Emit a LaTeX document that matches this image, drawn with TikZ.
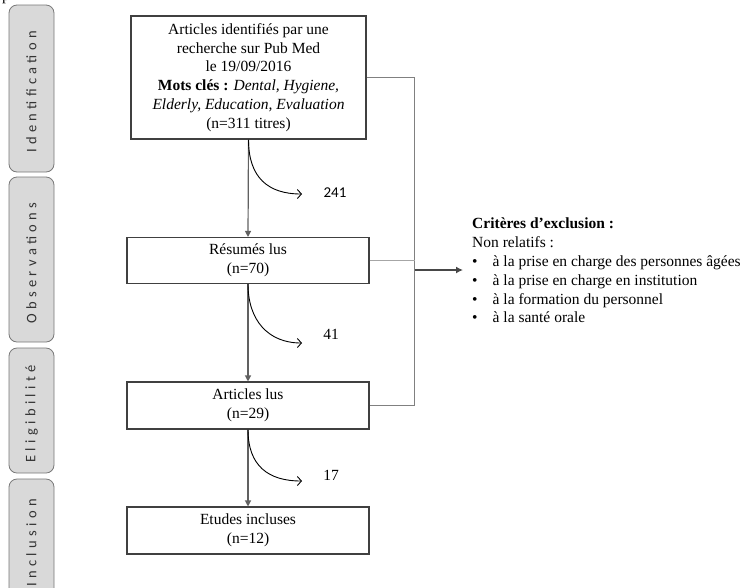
\documentclass[tikz,border=0pt]{standalone}
\usepackage{fontspec}
\setmainfont{Liberation Serif}
\newfontfamily\sidefont[LetterSpace=30]{Carlito}
\newfontfamily\calib{Carlito}
\usetikzlibrary{arrows.meta}
\definecolor{sidefill}{RGB}{217,217,217}
\definecolor{sideline}{RGB}{120,120,120}
\begin{document}
\begin{tikzpicture}[x=1pt,y=-1pt,
  sidebar/.style={draw=sideline, fill=sidefill, rounded corners=8pt, line width=0.8pt, minimum width=45pt, inner sep=0pt},
  sidelabel/.style={rotate=90, font=\sidefont\fontsize{14.5}{16}\selectfont, text=black!80, inner sep=0pt},
  stepbox/.style={draw=black!75, line width=1.1pt, fill=white, align=center, inner sep=0pt, font=\fontsize{15.5}{18.8}\selectfont},
  flow/.style={draw=black!62, line width=1.2pt, -{Triangle[length=6pt,width=6pt]}},
  sideconn/.style={draw=black!50, line width=1pt},
  sideconnlight/.style={draw=black!35, line width=1pt},
  exclarr/.style={draw=black!72, line width=2pt, -{Latex[length=7pt,width=7pt]}},
  outcurve/.style={draw=black, line width=0.9pt, -{Straight Barb[length=4pt,width=9pt]}},
  txt/.style={font=\fontsize{15.5}{18.8}\selectfont, inner sep=0pt}
]
\useasboundingbox (0,0) rectangle (751,587);

% fragment at top-left
\node[txt, anchor=base] (frag) at (6,0.8) {p};

% side bars
\node[sidebar, minimum height=167pt] (sb1) at (31.5,88.5) {};
\node[sidelabel] (sl1) at (31.5,92) {Identification};
\node[sidebar, minimum height=165pt] (sb2) at (31.5,259.5) {};
\node[sidelabel] (sl2) at (31.5,263) {Observations};
\node[sidebar, minimum height=125pt] (sb3) at (31.5,410.5) {};
\node[sidelabel] (sl3) at (31.5,414) {Eligibilité};
\node[sidebar, minimum height=132pt] (sb4) at (31.5,545) {};
\node[sidelabel] (sl4) at (31.5,543) {Inclusion};

% main boxes
\node[stepbox, minimum width=235pt, minimum height=123pt] (top) at (248.5,77.5)
  {Articles identifiés par une\\recherche sur Pub Med\\le 19/09/2016\\\textbf{Mots clés :} \textit{Dental, Hygiene,}\\\textit{Elderly, Education, Evaluation}\\(n=311 titres)};
\node[stepbox, minimum width=242pt, minimum height=46pt] (res) at (248,260.5)
  {Résumés lus\\(n=70)};
\node[stepbox, minimum width=242pt, minimum height=47pt] (art) at (248,405.5)
  {Articles lus\\(n=29)};
\node[stepbox, minimum width=242pt, minimum height=47pt] (etu) at (248,530.5)
  {Etudes incluses\\(n=12)};

% main flow
\draw[flow] (top.south) -- (res.north);
\draw[flow] (res.south) -- (art.north);
\draw[flow] (art.south) -- (etu.north);

% excluded curves
\coordinate (e1) at (302,194);
\coordinate (e2) at (302,343);
\coordinate (e3) at (302,481);
\draw[outcurve] (top.south) .. controls +(0,38) and +(-34,0) .. (e1);
\draw[outcurve] (res.south) .. controls +(0,36) and +(-34,0) .. (e2);
\draw[outcurve] (art.south) .. controls +(0,36) and +(-34,0) .. (e3);
\node[txt, font=\calib\fontsize{15}{18}\selectfont] (n241) at (335,193) {241};
\node[txt] (n41) at (331,334) {41};
\node[txt] (n17) at (331,475) {17};

% right connectors
\coordinate (j1) at (414.5,77.5);
\coordinate (j2) at (414.5,260.5);
\coordinate (j3) at (414.5,405.5);
\coordinate (j4) at (414.5,270);
\coordinate (tip) at (463,270);
\draw[sideconn] (top.east) -- (j1) -- (j3) -- (art.east);
\draw[sideconnlight] (res.east) -- (j2);
\draw[exclarr] (j4) -- (tip);

% exclusion criteria
\node[txt, anchor=north west, align=left] (excl) at (472,218)
  {\textbf{Critères d’exclusion :}\\
   Non relatifs :\\
   \makebox[20.5pt][l]{•}à la prise en charge des personnes âgées\\
   \makebox[20.5pt][l]{•}à la prise en charge en institution\\
   \makebox[20.5pt][l]{•}à la formation du personnel\\
   \makebox[20.5pt][l]{•}à la santé orale};
\end{tikzpicture}
\end{document}
